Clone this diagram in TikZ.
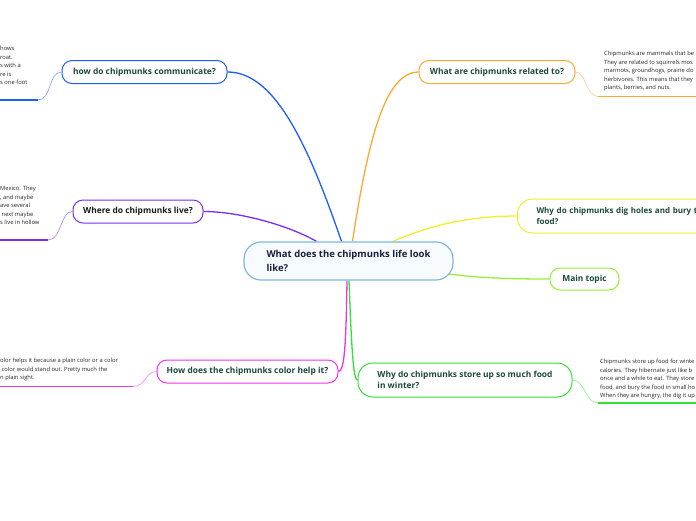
\documentclass[tikz,border=0pt]{standalone}
\usepackage{fontspec}
\setmainfont{Open Sans}
\pgfdeclarelayer{background}
\pgfsetlayers{background,main}
\definecolor{cblue}{HTML}{1F5CFF}
\definecolor{cpurple}{HTML}{7A2CF5}
\definecolor{cmag}{HTML}{EE33EE}
\definecolor{corange}{HTML}{FFA733}
\definecolor{cyellow}{HTML}{F0F02A}
\definecolor{clgreen}{HTML}{99EE33}
\definecolor{cgreen}{HTML}{33E033}
\definecolor{cstroke}{HTML}{80B6E0}
\definecolor{cfill}{HTML}{F7FBFE}
\definecolor{tgreen}{HTML}{1B4A3A}
\definecolor{tnavy}{HTML}{17203D}
\begin{document}
\begin{tikzpicture}[x=1pt,y=-1pt,
  topic/.style={draw, rounded corners=10pt, line width=1pt, fill=white, inner sep=0pt,
    font=\bfseries\fontsize{8.4}{11.2}\selectfont, text=tgreen, align=left},
  central/.style={draw=cstroke, fill=cfill, rounded corners=17pt, line width=1.2pt, inner sep=0pt,
    font=\bfseries\fontsize{9.5}{13.5}\selectfont, text=tnavy, align=left},
  note/.style={inner sep=0pt, anchor=north west, align=left, text=black!85,
    font=\fontsize{5.8}{8.4}\selectfont},
  branch/.style={line width=1.3pt},
  twig/.style={line width=0.6pt},
  uline/.style={line width=1.8pt}]
\useasboundingbox (0,0) rectangle (696,520);
\clip (0,0) rectangle (696,520);

% central
\node[central, minimum width=209pt, minimum height=38pt] (c) at (348.5,261) {What does the chipmunks life look\\like?};

% topics
\node[topic, draw=cblue, minimum width=165pt, minimum height=23pt] (b1) at (144.5,72) {how do chipmunks communicate?};
\node[topic, draw=cpurple, text=black!90, minimum width=130pt, minimum height=23pt] (b2) at (138,211.5) {Where do chipmunks live?};
\node[topic, draw=cmag, minimum width=181pt, minimum height=23pt] (b3) at (247.5,371.5) {How does the chipmunks color help it?};
\node[topic, draw=corange, minimum width=156pt, minimum height=23pt] (b4) at (497,72) {What are chipmunks related to?};
\node[topic, draw=cyellow, anchor=west, inner xsep=19pt, text width=210pt, minimum height=34pt, rounded corners=15pt, font=\bfseries\fontsize{8}{11.2}\selectfont] (b5) at (517,216) {Why do chipmunks dig holes and bury their\\food?};
\node[topic, draw=clgreen, minimum width=69pt, minimum height=22pt] (b6) at (584.5,279) {Main topic};
\node[topic, draw=cgreen, minimum width=214pt, minimum height=34pt, rounded corners=15pt] (b7) at (465,380) {Why do chipmunks store up so much food\\in winter?};

% notes
\node[note] (n1) at (0,46.3) {hows\\roat.\\s with a\\re is\\s one foot};
\node[note] (n2) at (0,186.3) {Mexico. They\\, and maybe\\ave several\\\hspace*{1.5pt}next maybe\\s live in hollow};
\node[note, font=\fontsize{5.8}{8.7}\selectfont] (n3) at (0,357.8) {olor helps it because a plain color or a color\\\hspace*{1.5pt}color would stand out. Pretty much the\\n plain sight.};
\node[note] (n4) at (604,51.3) {Chipmunks are mammals that be\\They are related to squirrels mos\\marmots, groundhogs, prairie do\\herbivores. This means that they\\plants, berries, and nuts.};
\node[note] (n5) at (600,359.3) {Chipmunks store up food for winte\\calories. They hibernate just like b\\once and a while to eat. They store\\food, and bury the food in small ho\\When they are hungry, the dig it up};

% underline coordinates
\coordinate (u1) at (38,100); \coordinate (u1e) at (0,100);
\coordinate (u2) at (48,240); \coordinate (u2e) at (0,240);
\coordinate (u3) at (133,386.5); \coordinate (u3e) at (0,386.5);
\coordinate (u4) at (598,96.5); \coordinate (u4e) at (696,96.5);
\coordinate (u7) at (598,403); \coordinate (u7e) at (696,403);

\begin{pgfonlayer}{background}
% main branches
\draw[branch, cblue] ([xshift=-7pt]c.north) .. controls (305,135) and (272,72) .. (b1.east);
\draw[branch, corange] ([xshift=4pt]c.north) .. controls (368,140) and (385,72) .. (b4.west);
\draw[branch, cpurple] ([xshift=-32pt]c.north) .. controls (290,226) and (240,211.5) .. (b2.east);
\draw[branch, cyellow] ([xshift=44.5pt]c.north) .. controls (430,225) and (470,216) .. (b5.west);
\draw[branch, clgreen] ([xshift=-5pt,yshift=-13pt]c.east) .. controls (480,278) and (510,279) .. (b6.west);
\draw[branch, cmag] ([xshift=-1.5pt]c.south) .. controls (346,350) and (344,371.5) .. (b3.east);
\draw[branch, cgreen] ([xshift=0.5pt]c.south) .. controls (352,362) and (354,380) .. (b7.west);
% twigs
\draw[twig, cblue!60] (b1.west) .. controls (48,72) and (52,100) .. (u1);
\draw[twig, cpurple!60] (b2.west) .. controls (60,211.5) and (62,240) .. (u2);
\draw[twig, cmag!60] (b3.west) .. controls (145,371.5) and (146,386.5) .. (u3);
\draw[twig, corange!60] (b4.east) .. controls (586,72) and (586,96.5) .. (u4);
\draw[twig, cgreen!60] (b7.east) .. controls (585,380) and (585,403) .. (u7);
% underlines
\draw[uline, cblue] (u1) -- (u1e);
\draw[uline, cpurple] (u2) -- (u2e);
\draw[uline, cmag] (u3) -- (u3e);
\draw[uline, corange] (u4) -- (u4e);
\draw[uline, cgreen] (u7) -- (u7e);
\end{pgfonlayer}
\end{tikzpicture}
\end{document}
